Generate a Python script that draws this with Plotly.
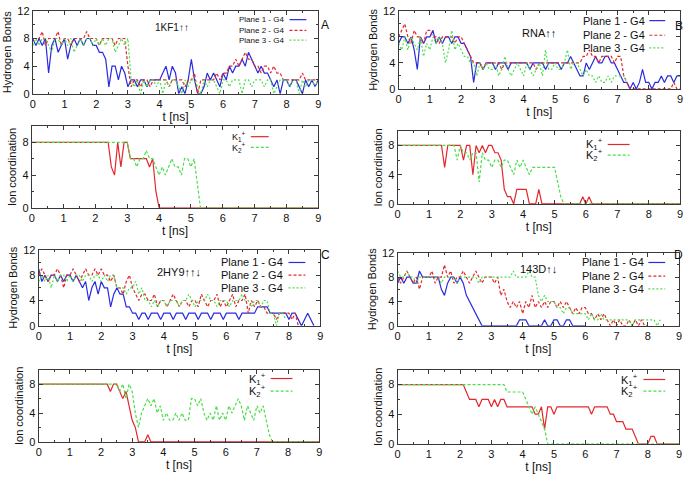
import plotly.graph_objects as go

# ---------------- data (0.1 ns sampling) ----------------
T_STEP = 0.1
T = [round(i * T_STEP, 1) for i in range(91)]

# Panel A : 1KF1
A_P1 = [8,7,8,7,8,3,7,8,6,7, 8,5,7,8,7,8,7,8,8,7, 7,6,6,5,1,4,4,2,4,3,
        1,2,2,1,2,2,1,2,2,2, 2,3,4,2,4,3,0,1,0,2, 5,2,0,0,1,3,2,3,2,1,
        3,2,4,3,4,4,5,4,6,5, 4,3,4,3,3,2,1,2,0,2, 2,1,2,2,1,0,2,1,2,1, 2]
A_P2 = [8,8,8,9,7,8,8,8,9,7, 8,8,7,8,8,8,8,9,8,8, 8,7,8,8,8,8,7,8,8,8,
        4,1,2,2,1,2,2,1,2,2, 2,2,2,1,2,2,2,2,1,2, 2,3,0,2,2,2,2,2,3,2,
        3,3,4,4,5,4,5,6,5,5, 4,4,3,4,4,3,4,3,3,2, 2,2,2,2,2,3,2,2,2,2, 2]
A_P3 = [7,8,7,8,8,7,6,8,8,7, 8,7,8,6,7,8,7,8,8,7, 8,7,8,7,8,8,6,7,8,7,
        8,2,1,2,0,2,1,2,2,1, 2,0,2,1,2,2,1,0,2,1, 2,2,1,0,2,1,2,2,1,0,
        2,2,1,2,2,2,0,2,2,1, 2,2,2,1,2,2,0,1,2,2, 2,1,2,2,0,2,1,2,2,1, 2]
A_K1 = [8,8,8,8,8,8,8,8,8,8, 8,8,8,8,8,8,8,8,8,8, 8,8,8,8,8,5,4,8,5,8,
        8,6,6,6,6,6,6,5,6,2, 0,0,0,0,0,0,0,0,0,0, 0,0,0,0,0,0,0,0,0,0,
        0,0,0,0,0,0,0,0,0,0, 0,0,0,0,0,0,0,0,0,0, 0,0,0,0,0,0,0,0,0,0, 0]
A_K2 = [8,8,8,8,8,8,8,8,8,8, 8,8,8,8,8,8,8,8,8,8, 8,8,8,8,8,8,8,8,8,8,
        8,6,6,5,6,6,7,6,6,5, 4,5,4,5,6,5,5,4,6,6, 5,6,3,0,0,0,0,0,0,0,
        0,0,0,0,0,0,0,0,0,0, 0,0,0,0,0,0,0,0,0,0, 0,0,0,0,0,0,0,0,0,0, 0]

# Panel B : RNA
B_P1 = [7,8,8,7,8,6,3,8,7,8, 8,9,7,8,7,8,8,7,8,8, 7,7,6,5,1,4,4,3,4,4,
        4,3,4,4,4,3,4,4,4,4, 4,4,3,4,4,4,4,3,4,4, 4,4,3,4,4,5,4,3,2,2,
        4,3,4,5,4,4,5,5,4,4, 3,2,1,1,0,1,0,1,3,1, 1,0,1,1,2,1,2,2,1,2, 2]
B_P2 = [8,9,10,8,7,9,8,8,7,9, 9,8,8,7,8,8,8,8,7,8, 8,7,6,5,4,4,4,3,4,4,
        4,4,4,3,4,4,4,4,4,4, 4,4,4,4,3,4,4,4,4,4, 4,4,4,4,4,4,4,4,4,5,
        5,6,5,5,4,5,5,5,5,4, 5,5,2,1,0,0,0,0,0,0, 0,0,0,0,0,0,0,0,1,0, 0]
B_P3 = [7,6,8,6,8,7,6,8,5,7, 6,8,7,8,7,4,6,9,6,7, 6,5,5,4,4,2,4,3,4,3,
        3,4,2,3,5,3,2,3,4,3, 2,4,3,2,3,4,2,6,3,3, 4,3,3,4,6,3,4,4,3,2,
        3,2,2,1,2,1,1,2,1,2, 2,2,2,1]
B_K1 = [8,8,8,8,8,8,8,8,8,8, 8,8,8,8,8,5,8,8,8,8, 8,6,8,8,4,8,7,8,7,8,
        8,7,7,6,2,1,1,0,2,2, 2,2,0,0,0,2,0,0,0,0, 0,0,0,0,0,0,0,0,0,1,
        0,1,0,0,0,0,0,0,0,0, 0,0,0,0,0,0,0,0,0,0, 0,0,0,0,0,0,0,0,0,0, 0]
B_K2 = [8,8,8,8,8,8,8,8,8,8, 8,8,8,8,8,8,8,8,8,6, 8,7,7,6,7,7,3,7,6,6,
        5,6,6,5,6,6,5,4,6,5, 6,5,4,5,5,5,5,5,5,5, 5,3,1,0,0,0,0,0,0,0,
        0,0,0,0,0,0,0,0,0,0, 0,0,0,0,0,0,0,0,0,0, 0,0,0,0,0,0,0,0,0,0, 0]

# Panel C : 2HY9
C_P1 = [9,7,8,7,8,8,7,8,7,8, 8,7,8,7,6,7,4,6,7,5, 7,6,6,3,5,6,5,5,3,3,
        2,2,1,2,2,1,2,2,2,1, 2,2,2,1,2,2,2,1,2,2, 2,1,2,2,2,1,2,2,2,1,
        2,2,2,2,1,2,2,2,2,2, 3,3,3,3,2,2,2,2,2,2, 1,2,2,1,0,1,2,1,0]
C_P2 = [8,9,8,7,8,8,9,8,6,8, 8,9,8,7,8,9,8,8,9,8, 9,8,8,7,8,6,6,5,7,8,
        6,5,4,5,5,4,4,5,3,4, 4,3,4,5,4,3,4,4,3,4, 4,3,5,4,3,4,4,5,3,4,
        3,4,5,3,4,4,5,2,4,3, 4,3,3,2,2,2,1,2,2,2, 2,1,2,0]
C_P3 = [7,8,7,8,6,8,7,8,8,7, 8,7,8,8,7,8,8,7,8,8, 7,8,7,8,8,6,6,6,5,6,
        6,7,5,6,4,4,3,4,3,4, 4,3,4,4,4,3,4,4,5,4, 3,4,4,4,5,4,4,3,4,4,
        4,3,4,4,4,5,4,4,3,4, 4,3,4,4,2,2,0,2,2,1]
C_K1 = [8,8,8,8,8,8,8,8,8,8, 8,8,8,8,8,8,8,8,8,8, 8,8,8,7,8,8,7,6,7,5,
        3,2,0,0,0,1,0,0,0,0, 0,0,0,0,0,0,0,0,0,0, 0,0,0,0,0,0,0,0,0,0,
        0,0,0,0,0,0,0,0,0,0, 0,0,0,0,0,0,0,0,0,0, 0,0,0,0,0,0,0,0,0,0, 0]
C_K2 = [8,8,8,8,8,8,8,8,8,8, 8,8,8,8,8,8,8,8,8,8, 8,8,8,8,8,8,7,8,6,8,
        7,4,2,4,5,6,5,6,4,5, 3,4,3,3,4,3,4,3,3,6, 6,5,6,4,3,4,3,5,3,4,
        3,5,4,5,6,5,3,5,4,3, 5,4,5,3,1,0,0,0,0,0, 0,0,0,0,0,0,0,0,0,0, 0]

# Panel D : 143D
D_P1 = [7,8,7,8,8,7,7,9,8,8, 8,8,8,8,6,5,7,8,8,7, 8,7,5,4,3,2,1,0,0,0,
        0,0,0,0,0,0,0,0,0,1, 1,1,0,0,0,0,0,1,0,0, 1,1,0,0,1,1,0,0,0,0, 0]
D_P2 = [8,7,8,9,8,7,8,6,8,8, 8,9,7,8,8,10,8,9,7,8, 8,9,8,7,8,9,8,7,8,8,
        8,7,8,5,6,4,3,4,3,4, 2,4,3,5,3,4,3,4,3,4, 4,3,4,3,4,3,2,3,2,3,
        3,2,2,1,2,1,2,1,0,1, 0,1,0,0,1,0,1,0,1,0, 0]
D_P3 = [9,8,8,9,8,8,7,8,8,8, 8,8,8,8,7,8,8,8,8,7, 8,8,8,8,8,8,7,8,8,8,
        8,8,8,8,8,8,8,9,8,8, 8,8,9,8,8,5,4,5,4,4, 4,3,3,2,3,3,2,2,2,2,
        2,1,2,1,1,2,1,1,1,1, 1,1,1,1,1,0,1,1,1,1, 1,1,1,0,1]
D_K1 = [8,8,8,8,8,8,8,8,8,8, 8,8,8,8,8,8,8,8,8,8, 8,8,7,6,6,6,5,6,6,6,
        5,6,5,6,6,5,5,5,5,5, 5,5,5,5,4,4,5,2,5,5, 4,5,5,5,5,5,5,5,5,5,
        5,5,4,5,5,5,5,5,4,4, 3,3,3,2,2,2,1,0,0,0, 0,1,1,0,0,0,0,0,0,0, 0]
D_K2 = [8,8,8,8,8,8,8,8,8,8, 8,8,8,8,8,8,8,8,8,8, 8,8,8,8,8,8,8,8,8,8,
        8,8,8,8,8,7,7,7,7,7, 7,6,5,4,5,4,3,2,0,0, 0,0,0,0,0,0,0,0,0,0,
        0,0,0,0,0,0,0,0,0,0, 0,0,0,0,0,0,0,0,0,0, 0,0,0,0,0,0,0,0,0,0, 0]

HB_NAMES = ["Plane 1 - G4", "Plane 2 - G4", "Plane 3 - G4"]
ION_NAMES = ["K<sub>1</sub><sup>+</sup>", "K<sub>2</sub><sup>+</sup>"]
PANEL_LETTERS = ["A", "B", "C", "D"]
PANEL_TITLES = ["1KF1\u2191\u2191", "RNA\u2191\u2191", "2HY9\u2191\u2191\u2193", "143D\u2191\u2193"]

HB_DATA = [[A_P1, A_P2, A_P3], [B_P1, B_P2, B_P3], [C_P1, C_P2, C_P3], [D_P1, D_P2, D_P3]]
ION_DATA = [[A_K1, A_K2], [B_K1, B_K2], [C_K1, C_K2], [D_K1, D_K2]]

# ---------------- styling / layout ----------------
W, H = 693, 484
FONT = "Liberation Sans, Arial, sans-serif"
FRAME = "#3a3a3a"
BLUE, RED, GREEN = "#2a2ade", "#e3282d", "#4ade4a"
HB_STYLE = [dict(color=BLUE, width=1.2, dash="solid"),
            dict(color=RED, width=1.2, dash="3px,2px"),
            dict(color=GREEN, width=1.2, dash="2px,2px")]
ION_STYLE = [dict(color=RED, width=1.2, dash="solid"),
             dict(color=GREEN, width=1.2, dash="3px,2px")]

def px(x):
    return x / W

def py(y):
    return 1 - y / H

# plot-area boxes in pixels: (left, right, top, bottom)
HB_BOX = [(30, 318, 5, 90), (399, 683, 5, 85), (36, 320, 250, 328), (398, 682, 253, 328)]
ION_BOX = [(29, 318, 123, 207), (398, 683, 128, 203), (36, 319, 373, 447), (398, 682, 373, 449)]

HB_LEG = [dict(tx=285, ys=[14, 25, 35], l0=289, l1=306, fs=8),
          dict(tx=650, ys=[15, 30, 43], l0=652, l1=668, fs=11),
          dict(tx=284, ys=[263, 276, 289], l0=288, l1=305, fs=11),
          dict(tx=649, ys=[263, 277, 290], l0=651, l1=668, fs=11)]
ION_LEG = [dict(tx=247, ys=[134, 145], l0=250, l1=268, fs=9),
           dict(tx=607, ys=[142, 153], l0=610, l1=632, fs=11),
           dict(tx=267, ys=[382, 395], l0=270, l1=292, fs=11),
           dict(tx=643, ys=[383, 395], l0=646, l1=668, fs=11)]
LETTER_POS = [(325, 10), (688, 11), (325, 255), (688, 255)]
TITLE_POS = [(4.4, 9.6, 10), (4.5, 8.6, 11), (4.5, 8.5, 11), (4.5, 9.3, 11)]

fig = go.Figure()
layout = dict(width=W, height=H, margin=dict(l=0, r=0, t=0, b=0),
              paper_bgcolor="white", plot_bgcolor="white", showlegend=False,
              font=dict(family=FONT, size=11, color="#111"))
annotations, shapes = [], []

def axis_common():
    return dict(showline=True, mirror="ticks", linecolor=FRAME, linewidth=1,
                ticks="inside", ticklen=4, tickcolor=FRAME, showgrid=False,
                zeroline=False, tickfont=dict(family=FONT, size=11, color="#111"))

ax = 0
for p in range(4):
    for kind in ("hb", "ion"):
        ax += 1
        xn = "x" if ax == 1 else f"x{ax}"
        yn = "y" if ax == 1 else f"y{ax}"
        box = HB_BOX[p] if kind == "hb" else ION_BOX[p]
        xa = axis_common()
        xa.update(domain=[px(box[0]), px(box[1])], range=[0, 9], anchor=yn,
                  tick0=0, dtick=1,
                  minor=dict(dtick=0.5, ticks="inside", ticklen=2, tickcolor=FRAME),
                  title=dict(text="t [ns]", font=dict(family=FONT, size=12, color="#111"), standoff=0))
        ya = axis_common()
        if kind == "hb":
            ya.update(range=[0, 12], dtick=4, tick0=0,
                      minor=dict(dtick=2, ticks="inside", ticklen=2, tickcolor=FRAME),
                      title=dict(text="Hydrogen Bonds", font=dict(family=FONT, size=11, color="#111"), standoff=3))
        else:
            ya.update(range=[0, 10], tickvals=[0, 4, 8],
                      minor=dict(tickvals=[2, 6, 10], ticks="inside", ticklen=2, tickcolor=FRAME),
                      title=dict(text="Ion coordination", font=dict(family=FONT, size=11, color="#111"), standoff=3))
        ya.update(domain=[py(box[3]), py(box[2])], anchor=xn)
        layout["xaxis" if ax == 1 else f"xaxis{ax}"] = xa
        layout["yaxis" if ax == 1 else f"yaxis{ax}"] = ya

        if kind == "hb":
            series, names, styles, leg = HB_DATA[p], HB_NAMES, HB_STYLE, HB_LEG[p]
        else:
            series, names, styles, leg = ION_DATA[p], ION_NAMES, ION_STYLE, ION_LEG[p]
        for s, nm, st, yy in zip(series, names, styles, leg["ys"]):
            fig.add_trace(go.Scatter(x=T[:len(s)], y=s, mode="lines", name=nm,
                                     line=st, xaxis=xn, yaxis=yn, hoverinfo="skip"))
            # gnuplot-style key: text, then a line sample on its right
            annotations.append(dict(x=px(leg["tx"]), y=py(yy), xref="paper", yref="paper",
                                    text=nm, showarrow=False, xanchor="right", yanchor="middle",
                                    font=dict(family=FONT, size=leg["fs"], color="#111")))
            shapes.append(dict(type="line", xref="paper", yref="paper",
                               x0=px(leg["l0"]), x1=px(leg["l1"]), y0=py(yy), y1=py(yy),
                               line=st))
        if kind == "hb":
            tx, ty, fs = TITLE_POS[p]
            annotations.append(dict(x=tx, y=ty, xref=xn, yref=yn, text=PANEL_TITLES[p],
                                    showarrow=False, font=dict(family=FONT, size=fs, color="#111")))
            lx, ly = LETTER_POS[p]
            annotations.append(dict(x=px(lx), y=py(ly), xref="paper", yref="paper",
                                    text=PANEL_LETTERS[p], showarrow=False,
                                    font=dict(family=FONT, size=12, color="#111")))

layout["annotations"] = annotations
layout["shapes"] = shapes
fig.update_layout(**layout)
# place the figure at the very top-left of the page (no default body margin)
fig.write_html("out.html", config={"displayModeBar": False},
               post_script="document.body.style.margin='0';document.body.style.overflow='hidden';")
